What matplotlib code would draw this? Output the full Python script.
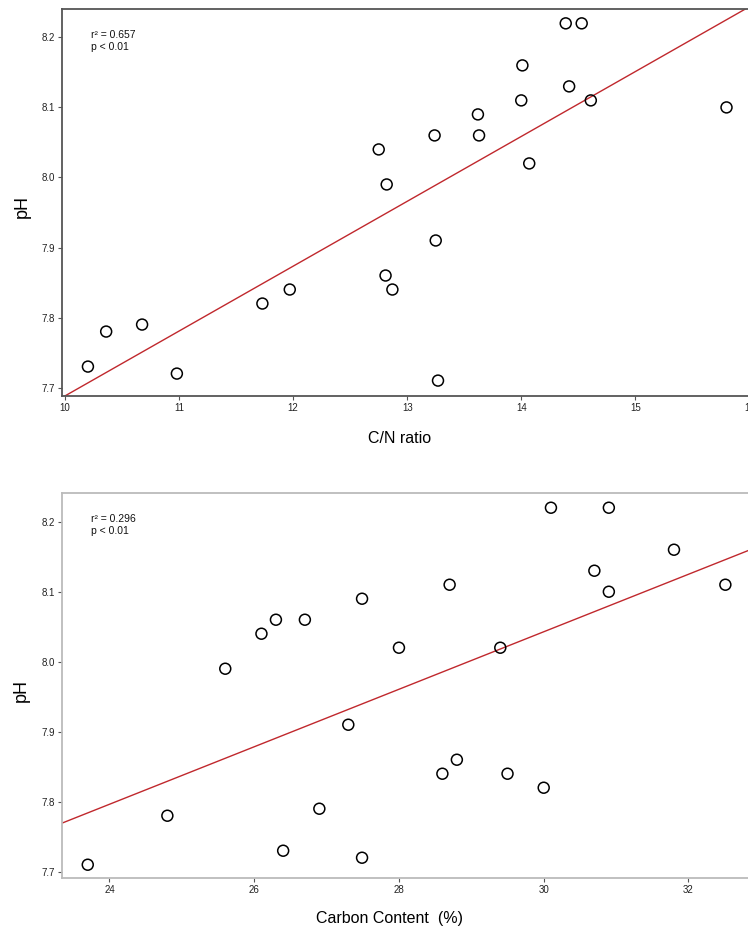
import numpy as np
import matplotlib
matplotlib.use("Agg")
import matplotlib.pyplot as plt

plt.rcParams['font.family'] = ['Liberation Sans', 'DejaVu Sans']

# Panel A: C/N ratio vs pH
cn_ratio = [10.20, 10.36, 10.675, 10.98, 11.73, 11.97, 12.75, 12.82, 13.24, 13.25,
            12.81, 12.87, 13.27, 13.62, 13.63, 14.01, 14.00, 14.07, 14.39, 14.53,
            14.42, 14.61, 15.80]
ph_a = [7.73, 7.78, 7.79, 7.72, 7.82, 7.84, 8.04, 7.99, 8.06, 7.91,
        7.86, 7.84, 7.71, 8.09, 8.06, 8.16, 8.11, 8.02, 8.22, 8.22,
        8.13, 8.11, 8.10]

# Panel B: Carbon content vs pH
carbon = [23.70, 24.80, 25.60, 26.10, 26.30, 26.70, 27.49, 27.30, 26.90, 26.40,
          27.49, 30.10, 30.90, 31.80, 30.70, 30.90, 32.51, 28.70, 28.00, 29.40,
          28.80, 28.60, 29.50, 30.00]
ph_b = [7.71, 7.78, 7.99, 8.04, 8.06, 8.06, 8.09, 7.91, 7.79, 7.73,
        7.72, 8.22, 8.22, 8.16, 8.13, 8.10, 8.11, 8.11, 8.02, 8.02,
        7.86, 7.84, 7.84, 7.82]

yticks = [7.7, 7.8, 7.9, 8.0, 8.1, 8.2]
xticks_a = [10, 11, 12, 13, 14, 15, 16]
xticks_b = [24, 26, 28, 30, 32]
stats_a = "r\u00b2 = 0.657\np < 0.01"
stats_b = "r\u00b2 = 0.296\np < 0.01"

W, H = 748, 932
fig = plt.figure(figsize=(W / 100, H / 100), dpi=100)

def px_axes(l, t, r, b):
    return fig.add_axes([l / W, 1 - b / H, (r - l) / W, (b - t) / H])

def panel(ax, x, y, xlim, ylim, xticks, stats, spine_color):
    ax.set_xlim(*xlim)
    ax.set_ylim(*ylim)
    ax.scatter(x, y, s=62, facecolors='none', edgecolors='black', linewidths=1.1, zorder=3)
    k, c = np.polyfit(x, y, 1)
    xs = np.array(xlim)
    ax.plot(xs, k * xs + c, color='#c0282d', lw=1.0, zorder=2)
    ax.set_xticks(xticks)
    ax.set_xticklabels([str(t) for t in xticks])
    ax.set_yticks(yticks)
    ax.set_yticklabels([f"{t:.1f}" for t in yticks])
    ax.tick_params(labelsize=7, length=3, width=0.8, color='#555555', labelcolor='#222222', pad=2)
    for s in ax.spines.values():
        s.set_color(spine_color)
        s.set_linewidth(1.3)
    ax.spines['right'].set_visible(False)
    ax.text(0.042, 0.945, stats, transform=ax.transAxes, fontsize=7.5, va='top', ha='left',
            linespacing=1.25, color='#111111')

ax1 = px_axes(61.7, 9, 763, 396)
panel(ax1, cn_ratio, ph_a, (9.97, 16.12), (7.688, 8.2405), xticks_a, stats_a, '#555555')

ax2 = px_axes(61.7, 493.3, 763, 878.3)
panel(ax2, carbon, ph_b, (23.34, 33.03), (7.6906, 8.2406), xticks_b, stats_b, '#bbbbbb')

fig.text(400 / W, 1 - 438 / H, "C/N ratio", fontsize=11.5, ha='center', va='center')
fig.text(389 / W, 1 - 919 / H, "Carbon Content  (%)", fontsize=11.5, ha='center', va='center')
fig.text(22 / W, 1 - 206 / H, "pH", fontsize=13, rotation=90, ha='center', va='center')
fig.text(21 / W, 1 - 690 / H, "pH", fontsize=13, rotation=90, ha='center', va='center')

fig.savefig("out.png", dpi=100)
